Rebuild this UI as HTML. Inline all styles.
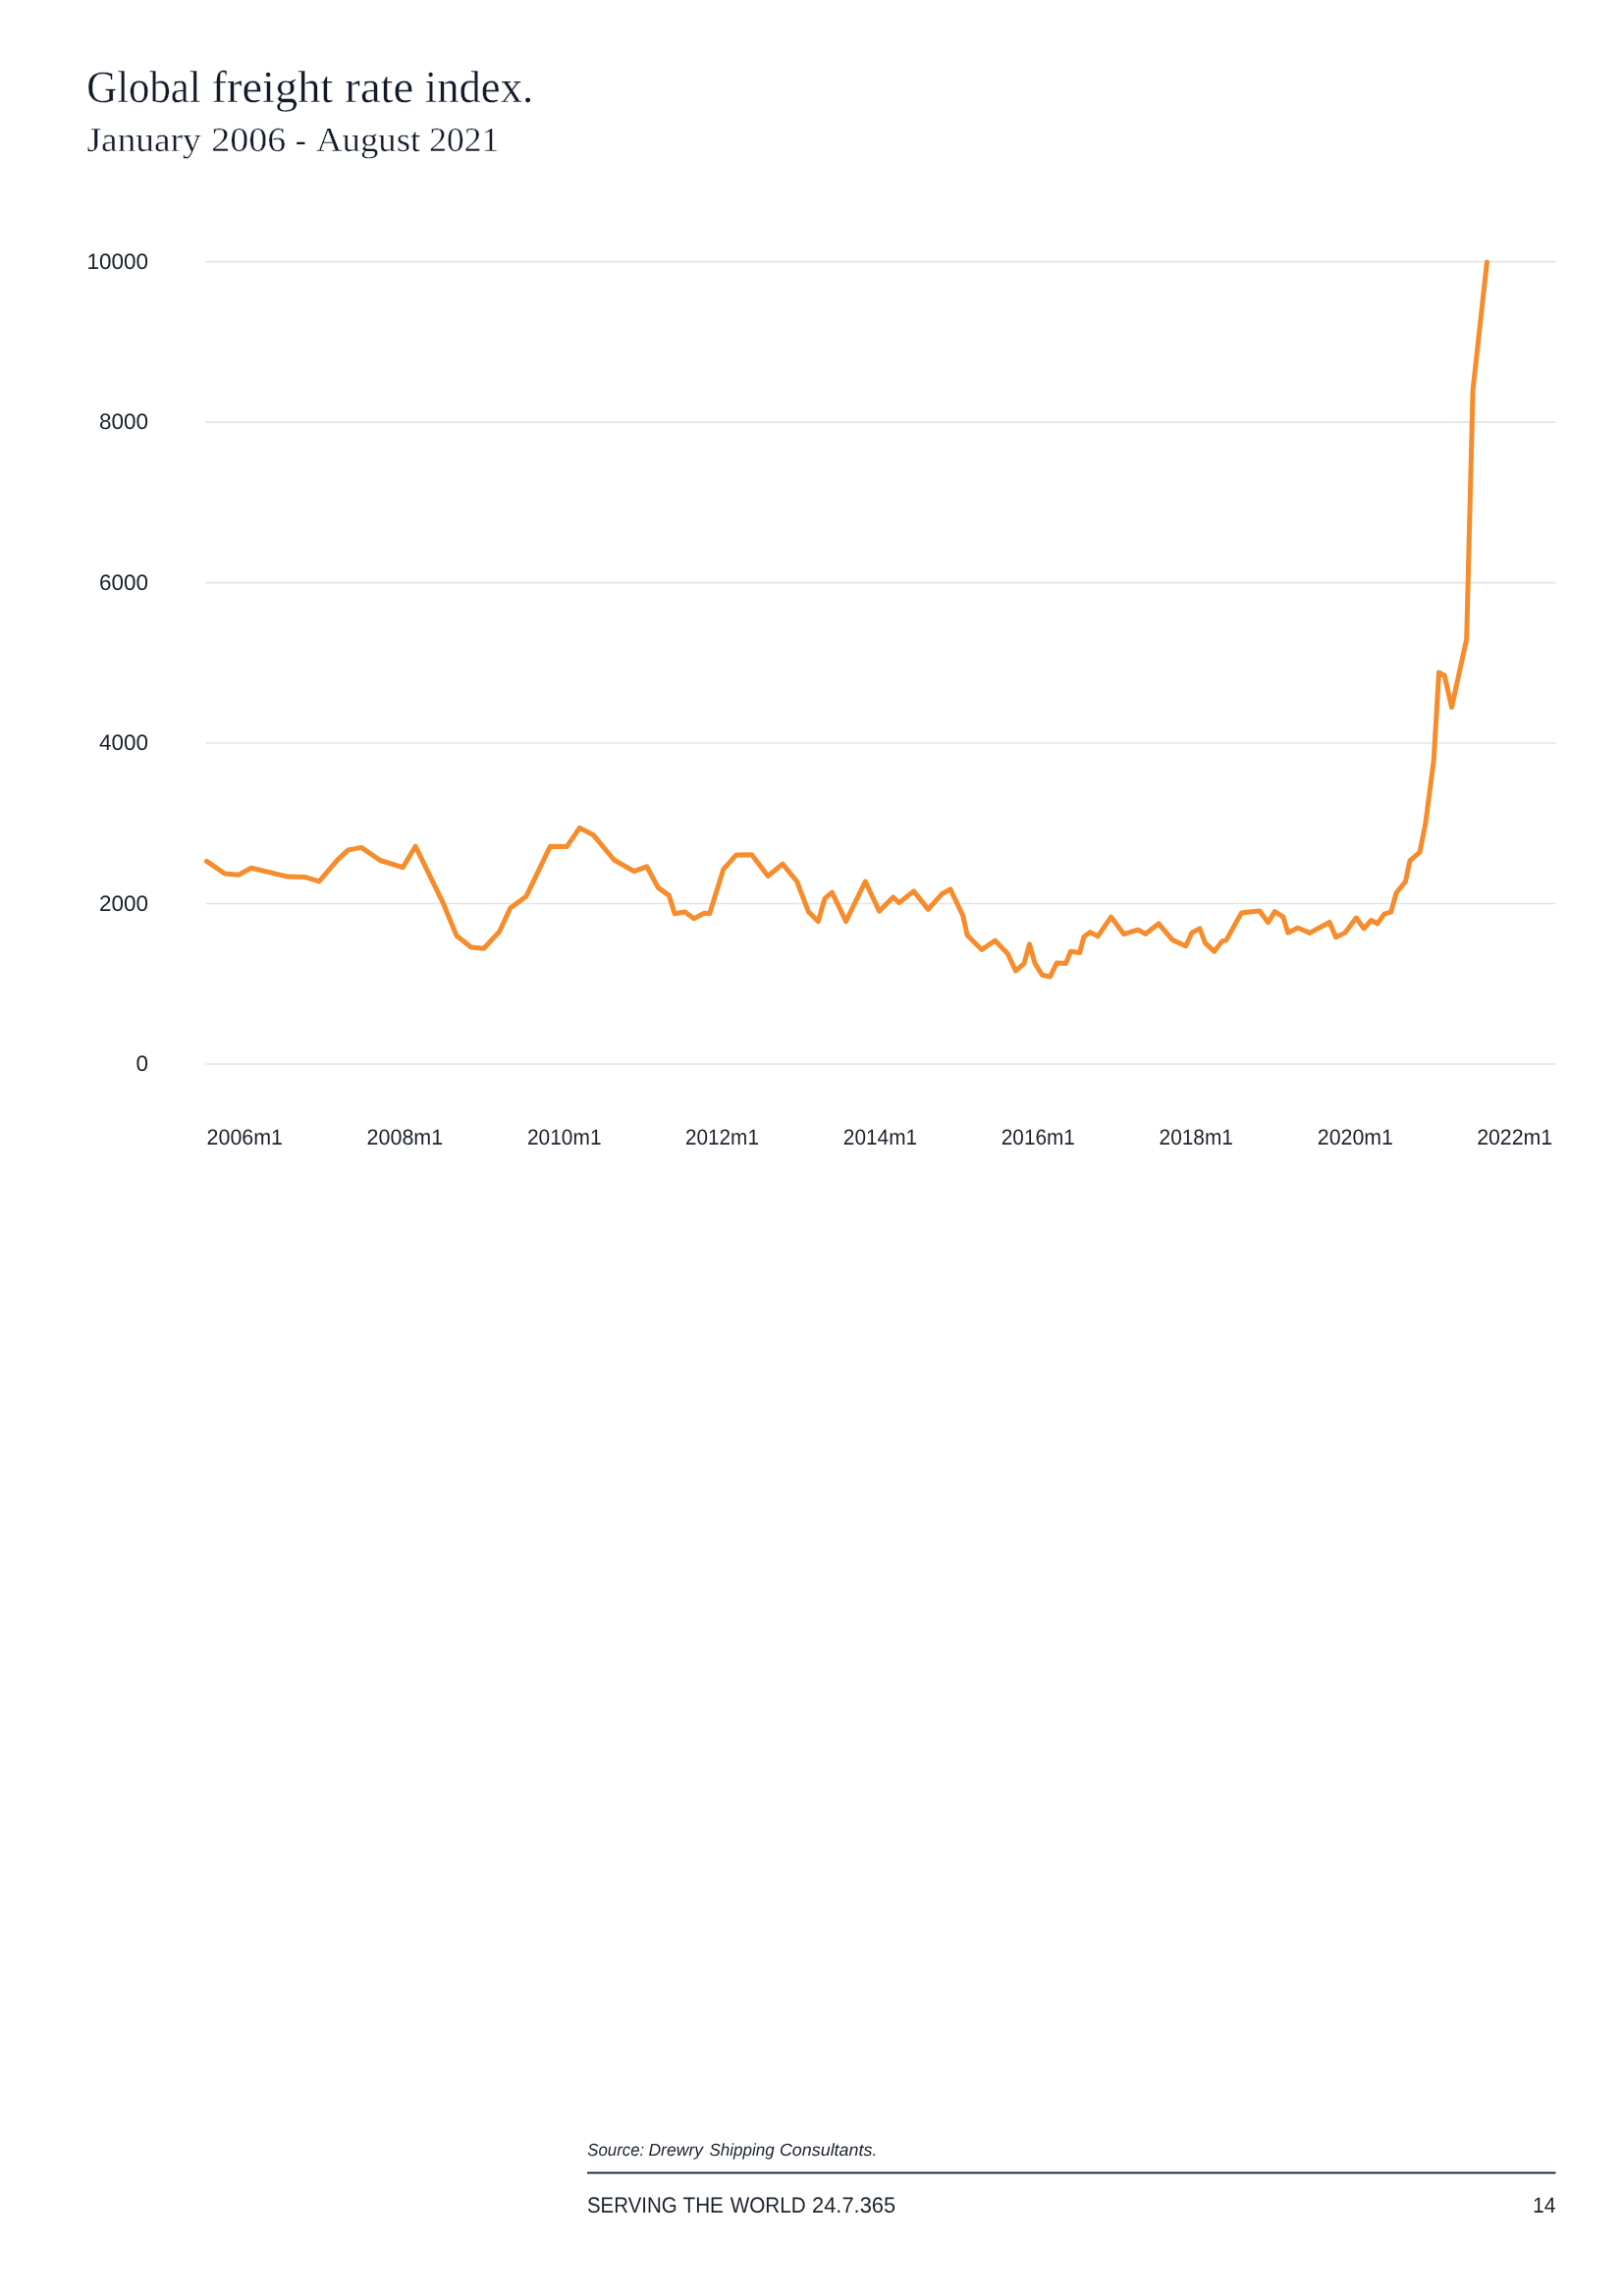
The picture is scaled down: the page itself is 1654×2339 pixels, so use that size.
<!DOCTYPE html>
<html><head><meta charset="utf-8"><title>Global freight rate index</title>
<style>
html,body{margin:0;padding:0;background:#fff;}
body{width:1654px;height:2339px;position:relative;overflow:hidden;font-family:"Liberation Sans",sans-serif;}
svg{position:absolute;left:0;top:0;will-change:transform;}
text{text-rendering:geometricPrecision;}
</style></head><body>
<svg width="1654" height="2339" viewBox="0 0 1654 2339">
<g stroke="#fff" stroke-width="0.35">
<text x="88.24" y="103.7" font-family='"Liberation Serif", serif' font-size="46" textLength="116.51" lengthAdjust="spacingAndGlyphs" fill="#121a2c">Global</text>
<text x="215.57" y="103.7" font-family='"Liberation Serif", serif' font-size="46" textLength="123.70" lengthAdjust="spacingAndGlyphs" fill="#121a2c">freight</text>
<text x="351.37" y="103.7" font-family='"Liberation Serif", serif' font-size="46" textLength="69.95" lengthAdjust="spacingAndGlyphs" fill="#121a2c">rate</text>
<text x="432.86" y="103.7" font-family='"Liberation Serif", serif' font-size="46" textLength="110.28" lengthAdjust="spacingAndGlyphs" fill="#121a2c">index.</text>
<text x="88.51" y="153.7" font-family='"Liberation Serif", serif' font-size="35" textLength="116.33" lengthAdjust="spacingAndGlyphs" fill="#121a2c">January</text>
<text x="215.33" y="153.7" font-family='"Liberation Serif", serif' font-size="35" textLength="75.90" lengthAdjust="spacingAndGlyphs" fill="#121a2c">2006</text>
<text x="300.74" y="153.7" font-family='"Liberation Serif", serif' font-size="35" textLength="11.28" lengthAdjust="spacingAndGlyphs" fill="#121a2c">-</text>
<text x="322.04" y="153.7" font-family='"Liberation Serif", serif' font-size="35" textLength="106.17" lengthAdjust="spacingAndGlyphs" fill="#121a2c">August</text>
<text x="437.24" y="153.7" font-family='"Liberation Serif", serif' font-size="35" textLength="70.99" lengthAdjust="spacingAndGlyphs" fill="#121a2c">2021</text>
</g>
<g stroke="#e4e4e4" stroke-width="1.6">
<line x1="209.5" y1="266.6" x2="1584.5" y2="266.6" />
<line x1="209.5" y1="430.1" x2="1584.5" y2="430.1" />
<line x1="209.5" y1="593.6" x2="1584.5" y2="593.6" />
<line x1="209.5" y1="757.0" x2="1584.5" y2="757.0" />
<line x1="209.5" y1="920.5" x2="1584.5" y2="920.5" />
<line x1="209.5" y1="1084.0" x2="1584.5" y2="1084.0" />
</g>
<text x="150.98" y="273.6" font-family='"Liberation Sans", sans-serif' font-size="22.5" text-anchor="end" textLength="62.49" lengthAdjust="spacingAndGlyphs" fill="#1b222c">10000</text>
<text x="150.98" y="437.1" font-family='"Liberation Sans", sans-serif' font-size="22.5" text-anchor="end" textLength="49.99" lengthAdjust="spacingAndGlyphs" fill="#1b222c">8000</text>
<text x="150.98" y="600.6" font-family='"Liberation Sans", sans-serif' font-size="22.5" text-anchor="end" textLength="49.99" lengthAdjust="spacingAndGlyphs" fill="#1b222c">6000</text>
<text x="150.98" y="764.0" font-family='"Liberation Sans", sans-serif' font-size="22.5" text-anchor="end" textLength="49.99" lengthAdjust="spacingAndGlyphs" fill="#1b222c">4000</text>
<text x="150.98" y="927.5" font-family='"Liberation Sans", sans-serif' font-size="22.5" text-anchor="end" textLength="49.99" lengthAdjust="spacingAndGlyphs" fill="#1b222c">2000</text>
<text x="150.98" y="1091.0" font-family='"Liberation Sans", sans-serif' font-size="22.5" text-anchor="end" textLength="12.50" lengthAdjust="spacingAndGlyphs" fill="#1b222c">0</text>
<text x="210.62" y="1165.6" font-family='"Liberation Sans", sans-serif' font-size="22.3" textLength="77.42" lengthAdjust="spacingAndGlyphs" fill="#1b222c">2006m1</text>
<text x="373.57" y="1165.6" font-family='"Liberation Sans", sans-serif' font-size="22.3" textLength="77.58" lengthAdjust="spacingAndGlyphs" fill="#1b222c">2008m1</text>
<text x="536.95" y="1165.6" font-family='"Liberation Sans", sans-serif' font-size="22.3" textLength="75.57" lengthAdjust="spacingAndGlyphs" fill="#1b222c">2010m1</text>
<text x="698.06" y="1165.6" font-family='"Liberation Sans", sans-serif' font-size="22.3" textLength="74.85" lengthAdjust="spacingAndGlyphs" fill="#1b222c">2012m1</text>
<text x="858.85" y="1165.6" font-family='"Liberation Sans", sans-serif' font-size="22.3" textLength="75.26" lengthAdjust="spacingAndGlyphs" fill="#1b222c">2014m1</text>
<text x="1019.75" y="1165.6" font-family='"Liberation Sans", sans-serif' font-size="22.3" textLength="75.16" lengthAdjust="spacingAndGlyphs" fill="#1b222c">2016m1</text>
<text x="1180.60" y="1165.6" font-family='"Liberation Sans", sans-serif' font-size="22.3" textLength="75.21" lengthAdjust="spacingAndGlyphs" fill="#1b222c">2018m1</text>
<text x="1341.83" y="1165.6" font-family='"Liberation Sans", sans-serif' font-size="22.3" textLength="77.01" lengthAdjust="spacingAndGlyphs" fill="#1b222c">2020m1</text>
<text x="1504.13" y="1165.6" font-family='"Liberation Sans", sans-serif' font-size="22.3" textLength="77.01" lengthAdjust="spacingAndGlyphs" fill="#1b222c">2022m1</text>
<polyline points="210.5,877.4 228.9,890.0 242.9,891.2 256.0,884.2 292.9,893.1 311.0,893.6 325.0,897.9 344.1,875.7 354.6,865.9 368.1,863.4 387.2,876.5 410.2,883.7 423.1,862.2 450.8,918.8 465.0,953.3 479.8,965.0 492.7,966.2 508.7,949.0 519.8,925.0 535.8,913.3 560.4,862.2 577.2,862.6 590.3,843.4 604.5,850.8 625.4,876.0 645.7,887.7 658.7,882.8 670.4,904.4 681.5,912.4 687.0,930.8 697.5,929.0 706.7,935.8 717.2,930.2 722.7,930.8 736.9,885.3 749.8,871.0 765.6,870.7 782.2,892.5 797.0,880.2 811.7,898.0 823.4,928.8 833.3,938.7 840.0,915.3 847.4,909.1 861.6,938.7 881.3,898.0 895.5,928.2 909.6,914.0 915.8,919.6 930.6,907.9 945.3,926.4 959.2,910.8 967.9,905.9 980.8,933.0 985.1,952.7 999.9,967.4 1013.4,958.2 1026.4,971.7 1034.4,989.0 1043.0,981.6 1048.5,961.9 1054.1,981.6 1061.5,993.3 1069.5,995.1 1076.2,981.0 1085.5,981.6 1090.4,969.3 1099.6,970.5 1103.9,954.5 1110.1,949.6 1118.1,953.9 1131.7,934.2 1144.7,951.7 1159.1,947.1 1166.5,951.4 1180.0,941.0 1194.2,957.6 1207.7,963.7 1213.9,950.2 1221.9,945.9 1227.4,960.7 1236.7,969.3 1244.7,958.8 1249.0,957.6 1264.4,929.9 1282.9,928.0 1291.5,939.7 1298.3,928.6 1306.9,934.2 1311.8,950.2 1321.7,945.3 1334.0,950.4 1354.1,939.5 1360.5,954.8 1369.9,950.3 1381.2,935.1 1389.1,945.9 1396.5,937.5 1402.9,941.0 1409.8,931.1 1416.7,929.2 1422.1,909.5 1431.5,898.1 1435.9,876.9 1446.0,868.2 1451.9,838.6 1460.2,774.8 1465.5,685.0 1471.2,688.1 1478.5,720.5 1493.7,651.0 1500.1,397.6 1514.4,267.0" fill="none" stroke="#f68c2c" stroke-width="5" stroke-linejoin="round" stroke-linecap="round"/>
<text x="598.22" y="2195.8" font-family='"Liberation Sans", sans-serif' font-style="italic" font-size="17.5" textLength="57.95" lengthAdjust="spacingAndGlyphs" fill="#1b222c">Source:</text>
<text x="660.46" y="2195.8" font-family='"Liberation Sans", sans-serif' font-style="italic" font-size="17.5" textLength="55.56" lengthAdjust="spacingAndGlyphs" fill="#1b222c">Drewry</text>
<text x="722.42" y="2195.8" font-family='"Liberation Sans", sans-serif' font-style="italic" font-size="17.5" textLength="66.43" lengthAdjust="spacingAndGlyphs" fill="#1b222c">Shipping</text>
<text x="793.91" y="2195.8" font-family='"Liberation Sans", sans-serif' font-style="italic" font-size="17.5" textLength="99.48" lengthAdjust="spacingAndGlyphs" fill="#1b222c">Consultants.</text>
<rect x="598" y="2212.6" width="986.5" height="1.9" fill="#1a2735"/>
<text x="597.98" y="2253.8" font-family='"Liberation Sans", sans-serif' font-size="22.5" textLength="91.65" lengthAdjust="spacingAndGlyphs" fill="#1b222c">SERVING</text>
<text x="695.54" y="2253.8" font-family='"Liberation Sans", sans-serif' font-size="22.5" textLength="41.25" lengthAdjust="spacingAndGlyphs" fill="#1b222c">THE</text>
<text x="743.71" y="2253.8" font-family='"Liberation Sans", sans-serif' font-size="22.5" textLength="77.08" lengthAdjust="spacingAndGlyphs" fill="#1b222c">WORLD</text>
<text x="827.00" y="2253.8" font-family='"Liberation Sans", sans-serif' font-size="22.5" textLength="85.12" lengthAdjust="spacingAndGlyphs" fill="#1b222c">24.7.365</text>
<text x="1561.00" y="2253.8" font-family='"Liberation Sans", sans-serif' font-size="22.2" textLength="23.42" lengthAdjust="spacingAndGlyphs" fill="#1b222c">14</text>
</svg>
</body></html>
